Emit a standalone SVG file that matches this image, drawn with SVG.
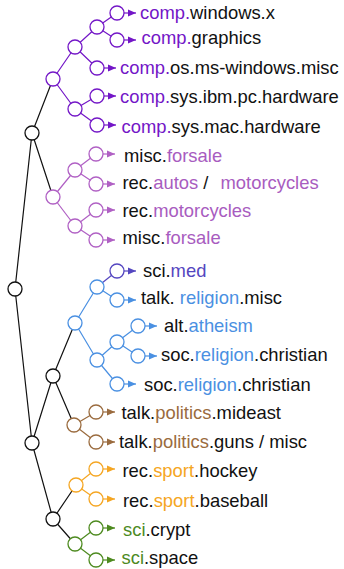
<svg xmlns="http://www.w3.org/2000/svg" width="344" height="569" viewBox="0 0 344 569">
<style>
text{font-family:"Liberation Sans",Arial,sans-serif;font-size:18.4px;fill:#111}
.e{stroke-width:1.2;fill:none}
circle{fill:#fff;stroke-width:1.3}
.k{stroke:#111}.pu{stroke:#7316c7}.mi{stroke:#b060c4}.bl{stroke:#4a90e2}.in{stroke:#5446c0}.br{stroke:#9a6b3e}.or{stroke:#f5a623}.gr{stroke:#4d8a1f}
.tpu{fill:#7316c7}.tmi{fill:#a85cc0}.tbl{fill:#4a90e2}.tin{fill:#5446c0}.tbr{fill:#9a6b3e}.tor{fill:#f5a623}.tgr{fill:#4d8a1f}
</style>
<defs>
<marker id="apu" markerUnits="userSpaceOnUse" markerWidth="8" markerHeight="8" refX="8" refY="4" orient="auto"><path d="M0,0.5 L8,4 L0,7.5z" fill="#7316c7"/></marker>
<marker id="ami" markerUnits="userSpaceOnUse" markerWidth="8" markerHeight="8" refX="8" refY="4" orient="auto"><path d="M0,0.5 L8,4 L0,7.5z" fill="#b060c4"/></marker>
<marker id="abl" markerUnits="userSpaceOnUse" markerWidth="8" markerHeight="8" refX="8" refY="4" orient="auto"><path d="M0,0.5 L8,4 L0,7.5z" fill="#4a90e2"/></marker>
<marker id="ain" markerUnits="userSpaceOnUse" markerWidth="8" markerHeight="8" refX="8" refY="4" orient="auto"><path d="M0,0.5 L8,4 L0,7.5z" fill="#5446c0"/></marker>
<marker id="abr" markerUnits="userSpaceOnUse" markerWidth="8" markerHeight="8" refX="8" refY="4" orient="auto"><path d="M0,0.5 L8,4 L0,7.5z" fill="#9a6b3e"/></marker>
<marker id="aor" markerUnits="userSpaceOnUse" markerWidth="8" markerHeight="8" refX="8" refY="4" orient="auto"><path d="M0,0.5 L8,4 L0,7.5z" fill="#f5a623"/></marker>
<marker id="agr" markerUnits="userSpaceOnUse" markerWidth="8" markerHeight="8" refX="8" refY="4" orient="auto"><path d="M0,0.5 L8,4 L0,7.5z" fill="#4d8a1f"/></marker>
</defs>
<g id="connectors">
<path class="e k" d="M15,289L32,133M15,289L32,443M32,133L53,79M32,133L53,197M32,443L53,376M32,443L53,519M53,376L75,323M53,376L74,425M53,519L76,485M53,519L75,544"/>
<path class="e pu" d="M53,79L75,47M53,79L75,109M75,47L97,27M75,47L97,68M97,27L117,13M97,27L117,40M75,109L97,96M75,109L97,125"/>
<path class="e mi" d="M53,197L75,170M53,197L75,226M75,170L96,154M75,170L96,184M75,226L96,210M75,226L96,240"/>
<path class="e bl" d="M75,323L97,287M75,323L97,360M97,287L117,300M97,360L117,342M97,360L117,384M117,342L138,326M117,342L138,356"/>
<path class="e in" d="M97,287L117,271"/>
<path class="e br" d="M74,425L96,412M74,425L96,442"/>
<path class="e or" d="M76,485L96,469M76,485L96,499"/>
<path class="e gr" d="M75,544L96,528M75,544L96,560"/>
<g class="e pu" marker-end="url(#apu)">
<path d="M124,13H136"/><path d="M124,40H136"/><path d="M104,68H116"/><path d="M104,96H116"/><path d="M104,125H116"/>
</g>
<g class="e mi" marker-end="url(#ami)">
<path d="M103,154H115"/><path d="M103,184H115"/><path d="M103,210H115"/><path d="M103,240H115"/>
</g>
<path class="e in" marker-end="url(#ain)" d="M124,271H136"/>
<g class="e bl" marker-end="url(#abl)">
<path d="M124,300H136"/><path d="M145,326H157"/><path d="M145,356H157"/><path d="M124,384H136"/>
</g>
<g class="e br" marker-end="url(#abr)"><path d="M103,412H115"/><path d="M103,442H115"/></g>
<g class="e or" marker-end="url(#aor)"><path d="M103,469H115"/><path d="M103,499H115"/></g>
<g class="e gr" marker-end="url(#agr)"><path d="M103,528H115"/><path d="M103,560H115"/></g>
</g>
<g id="root"><circle class="k" cx="15" cy="289" r="7"/></g>
<g id="k1"><circle class="k" cx="32" cy="133" r="7"/></g>
<g id="k2"><circle class="k" cx="32" cy="443" r="7"/></g>
<g id="k3"><circle class="k" cx="53" cy="376" r="7"/></g>
<g id="k4"><circle class="k" cx="53" cy="519" r="7"/></g>
<g id="comp"><circle class="pu" cx="53" cy="79" r="7"/></g>
<g id="comp-a"><circle class="pu" cx="75" cy="47" r="7"/></g>
<g id="comp-b"><circle class="pu" cx="97" cy="27" r="7"/></g>
<g id="comp-c"><circle class="pu" cx="75" cy="109" r="7"/></g>
<g id="leaf-windows"><circle class="pu" cx="117" cy="13" r="7"/><text x="140" y="18.5"><tspan class="tpu">comp.</tspan>windows.x</text></g>
<g id="leaf-graphics"><circle class="pu" cx="117" cy="40" r="7"/><text x="141.5" y="43.5"><tspan class="tpu">comp.</tspan>graphics</text></g>
<g id="leaf-os"><circle class="pu" cx="97" cy="68" r="7"/><text x="120" y="74"><tspan class="tpu">comp.</tspan>os.ms-windows.misc</text></g>
<g id="leaf-ibm"><circle class="pu" cx="97" cy="96" r="7"/><text x="120" y="103"><tspan class="tpu">comp.</tspan>sys.ibm.pc.hardware</text></g>
<g id="leaf-mac"><circle class="pu" cx="97" cy="125" r="7"/><text x="121.5" y="133"><tspan class="tpu">comp.</tspan>sys.mac.hardware</text></g>
<g id="misc"><circle class="mi" cx="53" cy="197" r="7"/></g>
<g id="misc-a"><circle class="mi" cx="75" cy="170" r="7"/></g>
<g id="misc-b"><circle class="mi" cx="75" cy="226" r="7"/></g>
<g id="leaf-forsale1"><circle class="mi" cx="96" cy="154" r="7"/><text x="124" y="161.5">misc.<tspan class="tmi">forsale</tspan></text></g>
<g id="leaf-autos"><circle class="mi" cx="96" cy="184" r="7"/><text x="122.5" y="189">rec.<tspan class="tmi">autos</tspan> / <tspan class="tmi" x="220.5">motorcycles</tspan></text></g>
<g id="leaf-motorcycles"><circle class="mi" cx="96" cy="210" r="7"/><text x="122.5" y="217">rec.<tspan class="tmi">motorcycles</tspan></text></g>
<g id="leaf-forsale2"><circle class="mi" cx="96" cy="240" r="7"/><text x="122.5" y="244">misc.<tspan class="tmi">forsale</tspan></text></g>
<g id="rel"><circle class="bl" cx="75" cy="323" r="7"/></g>
<g id="rel-a"><circle class="bl" cx="97" cy="287" r="7"/></g>
<g id="rel-b"><circle class="bl" cx="97" cy="360" r="7"/></g>
<g id="rel-c"><circle class="bl" cx="117" cy="342" r="7"/></g>
<g id="leaf-med"><circle class="in" cx="117" cy="271" r="7"/><text x="143" y="276.5">sci.<tspan class="tin">med</tspan></text></g>
<g id="leaf-religion-misc"><circle class="bl" cx="117" cy="300" r="7"/><text x="141" y="304">talk. <tspan class="tbl">religion</tspan>.misc</text></g>
<g id="leaf-atheism"><circle class="bl" cx="138" cy="326" r="7"/><text x="164" y="331.5">alt.<tspan class="tbl">atheism</tspan></text></g>
<g id="leaf-christian1"><circle class="bl" cx="138" cy="356" r="7"/><text x="161" y="361">soc.<tspan class="tbl">religion</tspan>.christian</text></g>
<g id="leaf-christian2"><circle class="bl" cx="117" cy="384" r="7"/><text x="144" y="390.5">soc.<tspan class="tbl">religion</tspan>.christian</text></g>
<g id="politics"><circle class="br" cx="74" cy="425" r="7"/></g>
<g id="leaf-mideast"><circle class="br" cx="96" cy="412" r="7"/><text x="121.5" y="419">talk.<tspan class="tbr">politics</tspan>.mideast</text></g>
<g id="leaf-guns"><circle class="br" cx="96" cy="442" r="7"/><text x="119" y="448">talk.<tspan class="tbr">politics</tspan>.guns / misc</text></g>
<g id="sport"><circle class="or" cx="76" cy="485" r="7"/></g>
<g id="leaf-hockey"><circle class="or" cx="96" cy="469" r="7"/><text x="122.5" y="477">rec.<tspan class="tor">sport</tspan>.hockey</text></g>
<g id="leaf-baseball"><circle class="or" cx="96" cy="499" r="7"/><text x="123" y="506.5">rec.<tspan class="tor">sport</tspan>.baseball</text></g>
<g id="sci"><circle class="gr" cx="75" cy="544" r="7"/></g>
<g id="leaf-crypt"><circle class="gr" cx="96" cy="528" r="7"/><text x="123" y="535.5"><tspan class="tgr">sci</tspan>.crypt</text></g>
<g id="leaf-space"><circle class="gr" cx="96" cy="560" r="7"/><text x="121.5" y="564"><tspan class="tgr">sci</tspan>.space</text></g>
</svg>
